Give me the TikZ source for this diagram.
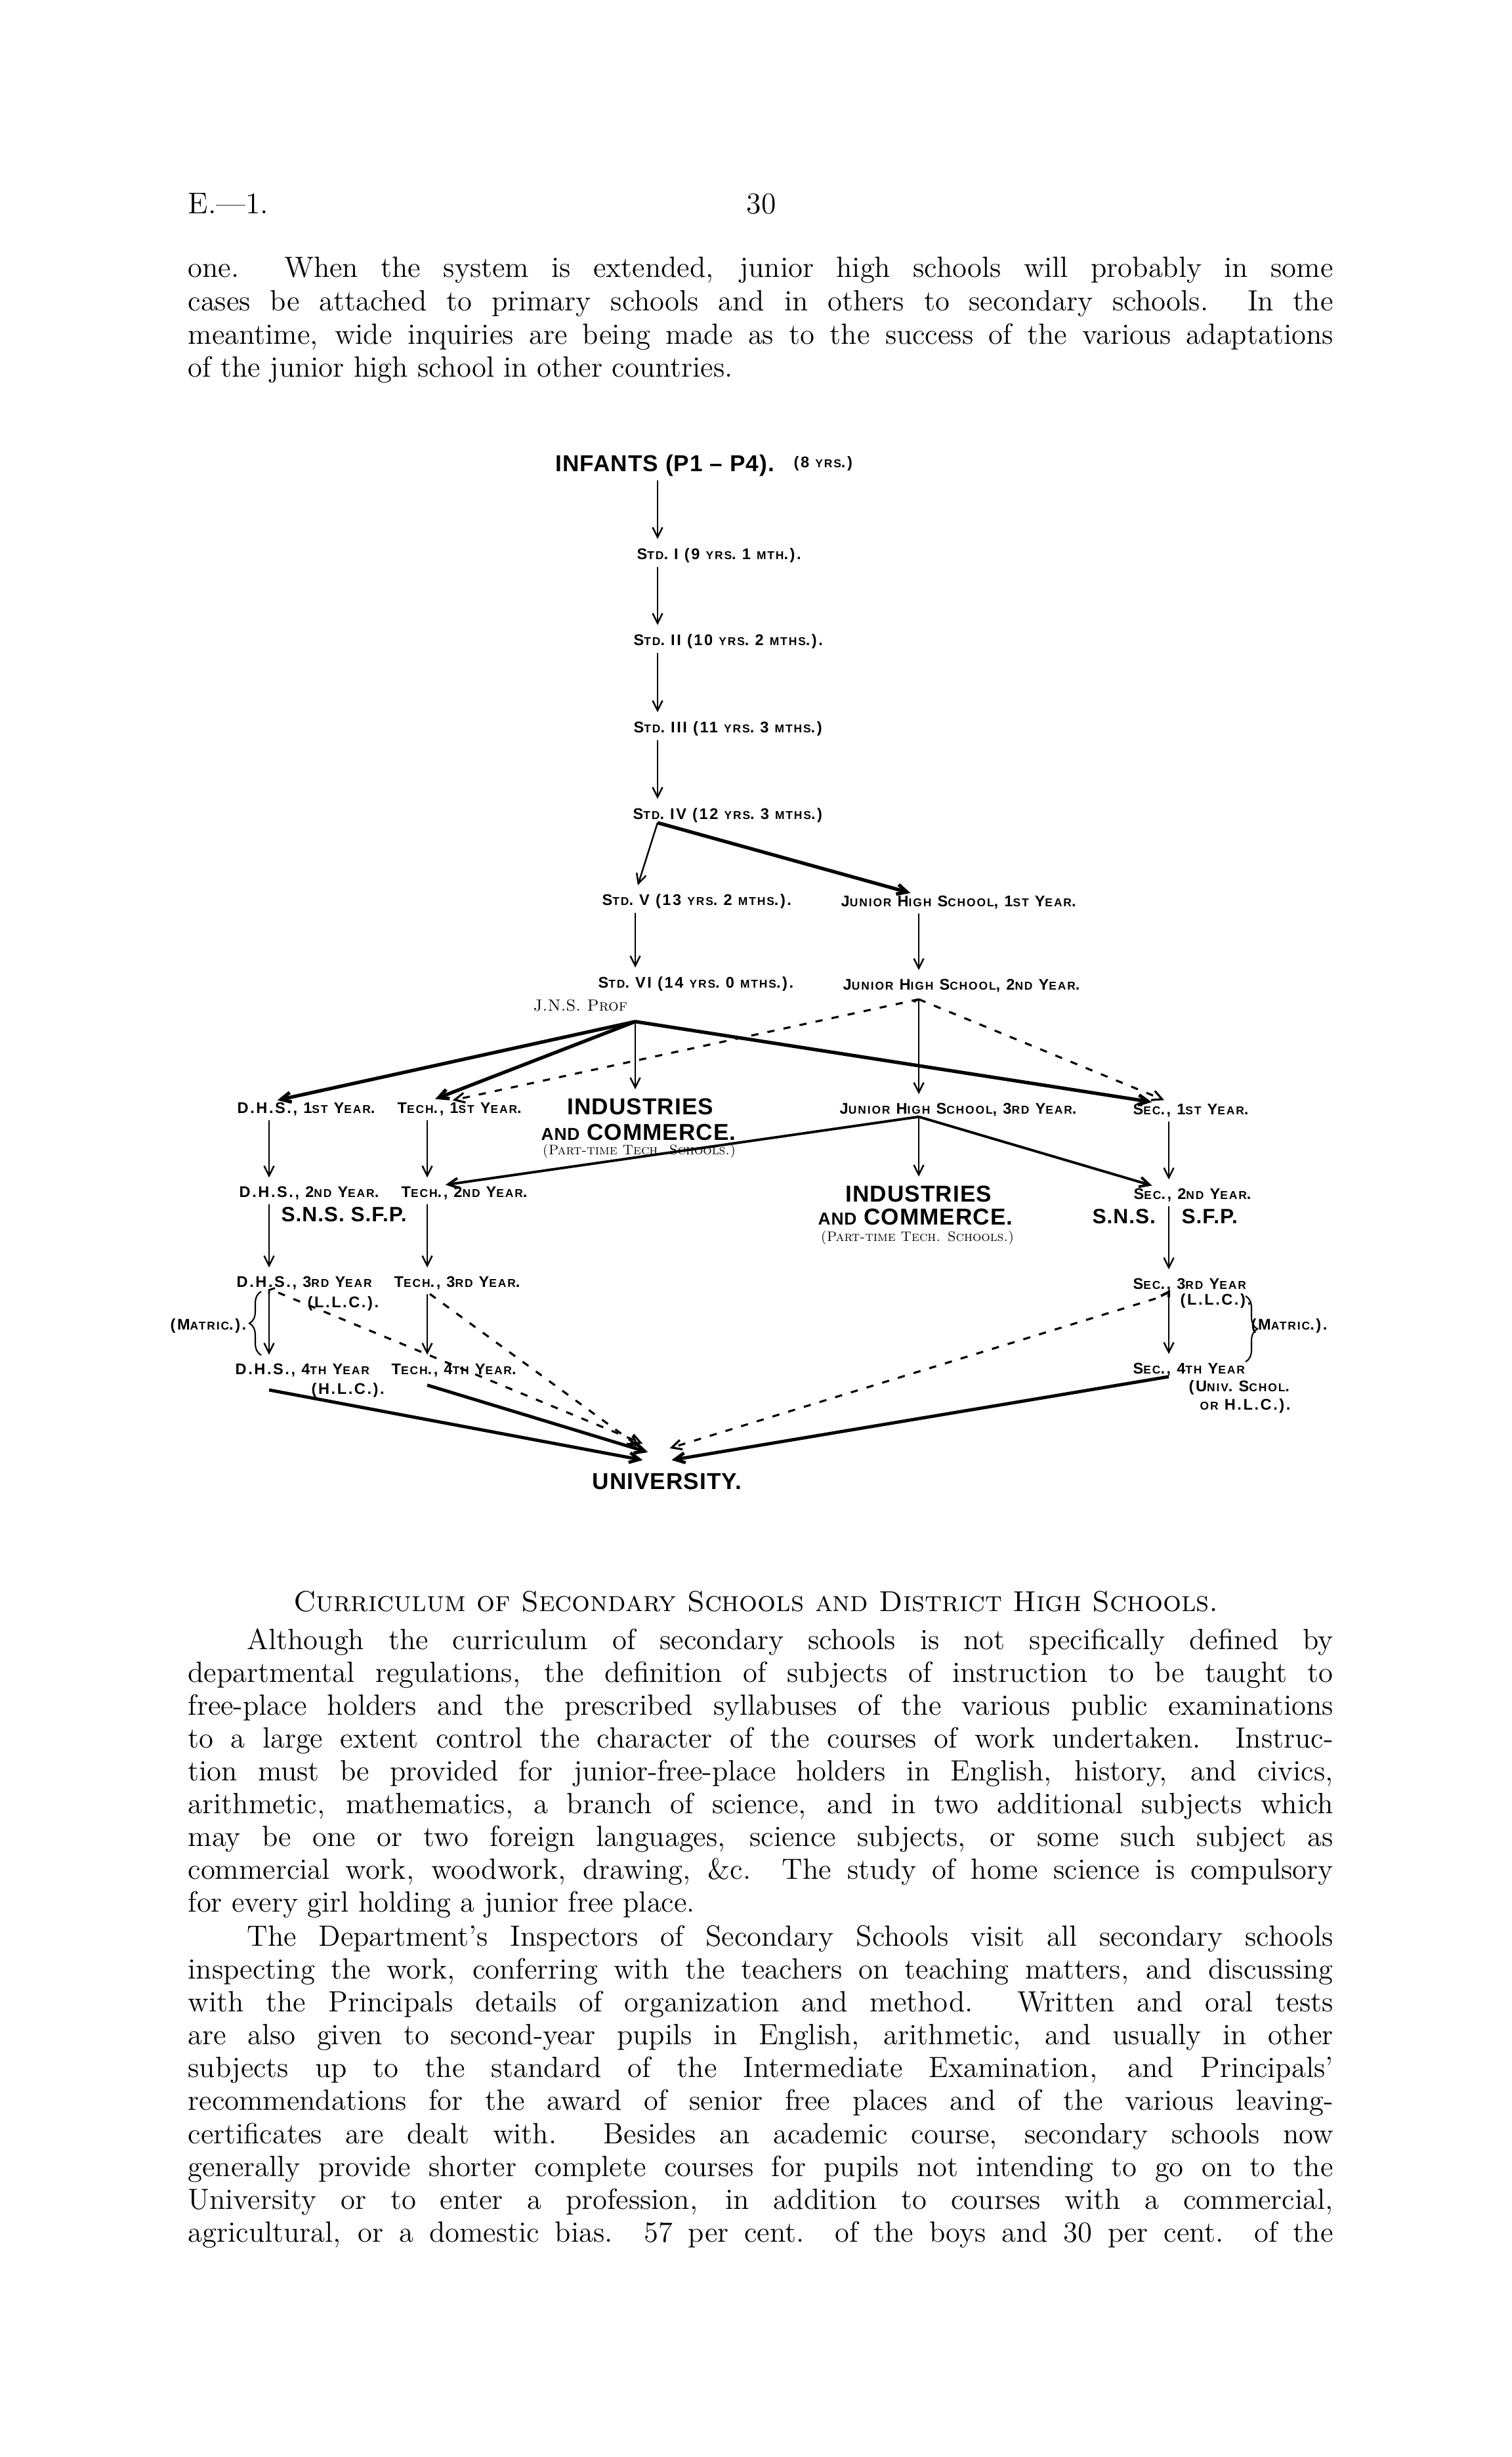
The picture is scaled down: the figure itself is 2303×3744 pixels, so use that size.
\documentclass[tikz,border=0pt]{standalone}
\usepackage{fontspec}
\newfontfamily\labfam{Liberation Sans}[LetterSpace=11]
\newfontfamily\hdfam{Liberation Sans}[LetterSpace=3]
\usetikzlibrary{arrows.meta,decorations.pathreplacing,calc}
\newcommand\sm[1]{{\fontsize{4.95}{5}\selectfont #1}}
\newcommand\labfont{\labfam\bfseries\fontsize{6.7}{7}\selectfont}
\newcommand\hdfont{\hdfam\bfseries\fontsize{10}{11}\selectfont}
\newcommand\snsfont{\hdfam\bfseries\fontsize{9}{10}\selectfont}
\newcommand\bodyfont{\fontsize{12.7}{14}\selectfont}
\newlength\tw \setlength\tw{174.5mm}
\newcommand\jl[1]{\hbox to \tw{#1}}
\begin{document}
\begin{tikzpicture}[x=0.1mm,y=-0.1mm,
 lab/.style={font=\labfont,inner sep=0pt,anchor=west},
 hd/.style={font=\hdfont,inner sep=0pt,anchor=west},
 sns/.style={font=\snsfont,inner sep=0pt,anchor=west},
 ptt/.style={font=\fontsize{6}{7}\selectfont\scshape,inner sep=0pt,anchor=west},
 body/.style={font=\bodyfont,inner sep=0pt,anchor=mid west},
 tip/.style={-{Straight Barb[length=1.5mm,width=1.5mm]}},
 arr/.style={tip,line width=0.7pt,shorten <=0.6mm,shorten >=1.3mm},
 tarr/.style={tip,line width=1.5pt,shorten >=1.3mm},
 marr/.style={tip,line width=1.1pt,shorten >=1.3mm},
 darr/.style={tip,line width=0.9pt,dash pattern=on 1.1mm off 1.4mm,shorten >=1.3mm},
 uarr/.style={tip,line width=1.4pt},
 udarr/.style={tip,line width=0.9pt,dash pattern=on 1.1mm off 1.4mm},
]
\useasboundingbox (0,0) rectangle (2303,3744);
\fill[white] (0,0) rectangle (2303,3744);

% ---------- page header and first paragraph
\node[font=\fontsize{13}{15}\selectfont,inner sep=0pt,anchor=base west] (pgid) at (286,326) {E.---1.};
\node[font=\fontsize{13}{15}\selectfont,inner sep=0pt,anchor=base] (pgno) at (1160,326) {30};
\node[body] (a1) at (286,415) {\jl{one.\ \ When the system is extended, junior high schools will probably in some}};
\node[body] (a2) at (286,466) {\jl{cases be attached to primary schools and in others to secondary schools.\ \ In the}};
\node[body] (a3) at (286,517) {\jl{meantime, wide inquiries are being made as to the success of the various adaptations}};
\node[body] (a4) at (286,567) {of the junior high school in other countries.};

% ---------- columns
\coordinate (cA) at (1002,0);
\coordinate (cB) at (968,0);
\coordinate (cJ) at (1400,0);
\coordinate (cD) at (410,0);
\coordinate (cT) at (651,0);
\coordinate (cT2) at (677,0);
\coordinate (cT3) at (666,0);
\coordinate (cS) at (1781,0);
\coordinate (cS2) at (1768,0);
\coordinate (cS3) at (1786,0);

% ---------- diagram nodes
\node[hd] (inf) at (846,709) {INFANTS (P1 – P4).};
\node[lab] (inf8) at (1209,706) {(8 \sm{YRS}.)};
\node[lab] (s1) at (970,846) {S\sm{TD}. I (9 \sm{YRS}. 1 \sm{MTH}.).};
\node[lab] (s2) at (965,977) {S\sm{TD}. II (10 \sm{YRS}. 2 \sm{MTHS}.).};
\node[lab] (s3) at (965,1110) {S\sm{TD}. III (11 \sm{YRS}. 3 \sm{MTHS}.)};
\node[lab] (s4) at (964,1242) {S\sm{TD}. IV (12 \sm{YRS}. 3 \sm{MTHS}.)};
\node[lab] (s5) at (917,1373) {S\sm{TD}. V (13 \sm{YRS}. 2 \sm{MTHS}.).};
\node[lab] (j1) at (1281,1375) {J\sm{UNIOR} H\sm{IGH} S\sm{CHOOL}, 1\sm{ST} Y\sm{EAR}.};
\node[lab] (s6) at (911,1499) {S\sm{TD}. VI (14 \sm{YRS}. 0 \sm{MTHS}.).};
\node[lab] (j2) at (1284,1502) {J\sm{UNIOR} H\sm{IGH} S\sm{CHOOL}, 2\sm{ND} Y\sm{EAR}.};
\node[font=\fontsize{7}{8}\selectfont\scshape,inner sep=0pt,anchor=west] (jns) at (812,1532) {J.N.S. Prof};
\node[lab] (d1) at (361,1690) {D.H.S., 1\sm{ST} Y\sm{EAR}.};
\node[lab] (t1) at (605,1690) {T\sm{ECH}., 1\sm{ST} Y\sm{EAR}.};
\node[hd] (i1a) at (864,1686) {INDUSTRIES};
\node[hd] (i1b) at (824,1725) {{\fontsize{7.5}{8}\selectfont AND} COMMERCE.};
\node[ptt] (i1c) at (826,1754) {(Part-time Tech. Schools.)};
\node[lab] (j3) at (1279,1691) {J\sm{UNIOR} H\sm{IGH} S\sm{CHOOL}, 3\sm{RD} Y\sm{EAR}.};
\node[lab] (e1) at (1726,1692) {S\sm{EC}., 1\sm{ST} Y\sm{EAR}.};
\node[lab] (d2) at (364,1818) {D.H.S., 2\sm{ND} Y\sm{EAR}.};
\node[lab] (t2) at (611,1818) {T\sm{ECH}., 2\sm{ND} Y\sm{EAR}.};
\node[sns] (sn1) at (428,1851) {S.N.S. S.F.P.};
\node[hd] (i2a) at (1288,1819) {INDUSTRIES};
\node[hd] (i2b) at (1246,1854) {{\fontsize{7.5}{8}\selectfont AND} COMMERCE.};
\node[ptt] (i2c) at (1250,1886) {(Part-time Tech. Schools.)};
\node[lab] (e2) at (1727,1821) {S\sm{EC}., 2\sm{ND} Y\sm{EAR}.};
\node[sns] (sn2) at (1664,1854) {S.N.S.};
\node[sns] (sf2) at (1800,1854) {S.F.P.};
\node[lab] (d3) at (360,1955) {D.H.S., 3\sm{RD} Y\sm{EAR}};
\node[lab] (t3) at (600,1955) {T\sm{ECH}., 3\sm{RD} Y\sm{EAR}.};
\node[lab] (l1) at (468,1986) {(L.L.C.).};
\node[lab] (e3) at (1726,1958) {S\sm{EC}., 3\sm{RD} Y\sm{EAR}};
\node[lab] (l2) at (1798,1982) {(L.L.C.).};
\node[lab,anchor=east] (m1) at (376,2020) {(M\sm{ATRIC}.).};
\node[lab] (m2) at (1906,2020) {(M\sm{ATRIC}.).};
\node[lab] (d4) at (358,2088) {D.H.S., 4\sm{TH} Y\sm{EAR}};
\node[lab] (h1) at (474,2118) {(H.L.C.).};
\node[lab] (t4) at (596,2088) {T\sm{ECH}., 4\sm{TH} Y\sm{EAR}.};
\node[lab] (e4) at (1726,2087) {S\sm{EC}., 4\sm{TH} Y\sm{EAR}};
\node[lab] (u1) at (1811,2114) {(U\sm{NIV}. S\sm{CHOL}.};
\node[lab] (u2) at (1828,2142) {\sm{OR} H.L.C.).};
\node[hd] (uni) at (902,2257) {UNIVERSITY.};

% ---------- hubs
\coordinate (h4) at (s4.south -| cA);
\coordinate (h6) at ($(s6.south -| cB)+(0,46)$);
\coordinate (h2) at ($(j2.south -| cJ)+(0,10)$);
\coordinate (h3) at (j3.south -| cJ);

% ---------- connectors, upper part
\draw[arr] (inf.south -| cA) -- (s1.north -| cA);
\draw[arr] (s1.south -| cA) -- (s2.north -| cA);
\draw[arr] (s2.south -| cA) -- (s3.north -| cA);
\draw[arr] (s3.south -| cA) -- (s4.north -| cA);
\draw[arr,shorten <=0pt] (h4) -- (s5.north -| cB);
\draw[tarr] (h4) -- (j1.north -| cJ);
\draw[arr] (s5.south -| cB) -- (s6.north -| cB);
\draw[arr] (j1.south -| cJ) -- (j2.north -| cJ);

% from Std VI
\draw[tarr] (h6) -- (d1.north -| cD);
\draw[tarr] (h6) -- (t1.north -| cT);
\draw[arr,shorten <=0pt] (h6) -- (i1a.north -| cB);
\draw[tarr] (h6) -- (e1.north -| cS2);

% from Junior High School 2nd year
\draw[darr] (h2) -- (t1.north -| cT2);
\draw[darr] (h2) -- (e1.north -| cS3);
\draw[arr,shorten <=0pt] (h2) -- (j3.north -| cJ);
\draw[line width=0.8pt] (h2) -- ($(h2)+(-8,4)$);

% from Junior High School 3rd year
\draw[marr] (h3) -- (t2.north -| cT3);
\draw[arr,shorten <=0pt] (h3) -- (i2a.north -| cJ);
\draw[marr] (h3) -- (e2.north -| cS2);

% columns
\draw[arr] (d1.south -| cD) -- (d2.north -| cD);
\draw[arr] (d2.south -| cD) -- (d3.north -| cD);
\draw[arr] (d3.south -| cD) -- (d4.north -| cD);
\draw[arr] (t1.south -| cT) -- (t2.north -| cT);
\draw[arr] (t2.south -| cT) -- (t3.north -| cT);
\draw[arr] (t3.south -| cT) -- (t4.north -| cT);
\draw[arr] (e1.south -| cS) -- (e2.north -| cS);
\draw[arr] (e2.south -| cS) -- (e3.north -| cS);
\draw[arr] (e3.south -| cS) -- (e4.north -| cS);

% hooks at the top of the 3rd-to-4th year lines
\draw[line width=0.8pt] ($(d3.south -| cD)+(0,6)$) -- ($(d3.south -| cD)+(0,0)$) -- ($(d3.south -| cD)+(9,-3)$);
\draw[line width=1.1pt] ($(e3.south -| cS)+(0,8)$) -- ($(e3.south -| cS)+(0,0)$) -- ($(e3.south -| cS)+(-12,6)$);

% braces
\draw[line width=0.6pt,decorate,decoration={brace,amplitude=1.8mm}] (398,2065) -- (398,1968);
\draw[line width=0.6pt,decorate,decoration={brace,amplitude=1.8mm}] (1898,1975) -- (1898,2075);

% ---------- connectors to the university
\draw[udarr] ($(d3.south -| cD)+(14,4)$) -- ($(uni.north)+(-37,-44)$);
\draw[udarr] ($(t3.south -| cT)+(4,6)$) -- ($(uni.north)+(-42,-39)$);
\draw[uarr] ($(t4.south -| cT)+(0,12)$) -- ($(uni.north)+(-29,-31)$);
\draw[uarr] (h1.west -| cD) -- ($(uni.north)+(-37,-19)$);
\draw[udarr] ($(e3.south -| cS)+(-20,10)$) -- ($(uni.north)+(4,-37)$);
\draw[uarr] (e4.south -| cS) -- ($(uni.north)+(7,-19)$);

% ---------- heading and text below
\node[font=\fontsize{12.5}{14}\selectfont\scshape,inner sep=0pt,anchor=mid] (head) at (1152,2448) {Curriculum of Secondary Schools and District High Schools.};
\node[body] (b1) at (286,2506) {\jl{\hskip 9mm Although the curriculum of secondary schools is not specifically defined by}};
\node[body] (b2) at (286,2556) {\jl{departmental regulations, the definition of subjects of instruction to be taught to}};
\node[body] (b3) at (286,2606) {\jl{free-place holders and the prescribed syllabuses of the various public examinations}};
\node[body] (b4) at (286,2656) {\jl{to a large extent control the character of the courses of work undertaken.\ \ Instruc-}};
\node[body] (b5) at (286,2706) {\jl{tion must be provided for junior-free-place holders in English, history, and civics,}};
\node[body] (b6) at (286,2756) {\jl{arithmetic, mathematics, a branch of science, and in two additional subjects which}};
\node[body] (b7) at (286,2806) {\jl{may be one or two foreign languages, science subjects, or some such subject as}};
\node[body] (b8) at (286,2856) {\jl{commercial work, woodwork, drawing, \&c.\ \ The study of home science is compulsory}};
\node[body] (b9) at (286,2906) {for every girl holding a junior free place.};
\node[body] (c1) at (286,2958) {\jl{\hskip 9mm The Department's Inspectors of Secondary Schools visit all secondary schools}};
\node[body] (c2) at (286,3008) {\jl{inspecting the work, conferring with the teachers on teaching matters, and discussing}};
\node[body] (c3) at (286,3058) {\jl{with the Principals details of organization and method.\ \ Written and oral tests}};
\node[body] (c4) at (286,3108) {\jl{are also given to second-year pupils in English, arithmetic, and usually in other}};
\node[body] (c5) at (286,3158) {\jl{subjects up to the standard of the Intermediate Examination, and Principals'}};
\node[body] (c6) at (286,3208) {\jl{recommendations for the award of senior free places and of the various leaving-}};
\node[body] (c7) at (286,3259) {\jl{certificates are dealt with.\ \ Besides an academic course, secondary schools now}};
\node[body] (c8) at (286,3309) {\jl{generally provide shorter complete courses for pupils not intending to go on to the}};
\node[body] (c9) at (286,3359) {\jl{University or to enter a profession, in addition to courses with a commercial,}};
\node[body] (c10) at (286,3409) {\jl{agricultural, or a domestic bias.\ \ 57 per cent. of the boys and 30 per cent. of the}};
\end{tikzpicture}
\end{document}
